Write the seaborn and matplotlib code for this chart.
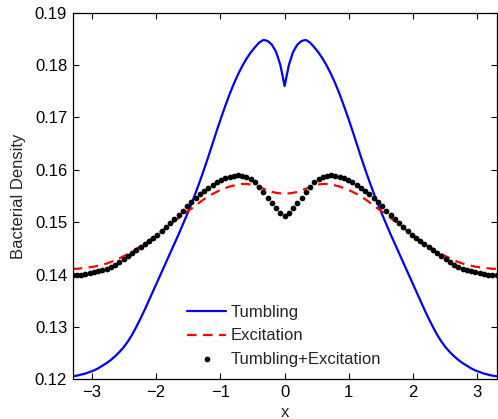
import numpy as np
import matplotlib
matplotlib.use("Agg")
import matplotlib.pyplot as plt
import seaborn as sns

sns.set_style("ticks")
plt.rcParams['font.family'] = ['Liberation Sans', 'DejaVu Sans']

# values, 101 evenly spaced samples on [-3.3, 3.3]
x = np.linspace(-3.3, 3.3, 101)

tumbling = [
    0.1206, 0.1207, 0.1209, 0.1211, 0.1214, 0.1217, 0.1221, 0.1226, 0.1231, 0.1237,
    0.1244, 0.1252, 0.1261, 0.1272, 0.1285, 0.1300, 0.1316, 0.1333, 0.1351, 0.1369,
    0.1387, 0.1405, 0.1423, 0.1441, 0.1459, 0.1477, 0.1496, 0.1515, 0.1535, 0.1556,
    0.1578, 0.1601, 0.1625, 0.1650, 0.1675, 0.1699, 0.1722, 0.1744, 0.1764, 0.1782,
    0.1798, 0.1812, 0.1824, 0.1834, 0.1843, 0.1848, 0.1846, 0.1839, 0.1825, 0.1800,
    0.1760,
    0.1800, 0.1825, 0.1839, 0.1846, 0.1848, 0.1843, 0.1834, 0.1824, 0.1812, 0.1798,
    0.1782, 0.1764, 0.1744, 0.1722, 0.1699, 0.1675, 0.1650, 0.1625, 0.1601, 0.1578,
    0.1556, 0.1535, 0.1515, 0.1496, 0.1477, 0.1459, 0.1441, 0.1423, 0.1405, 0.1387,
    0.1369, 0.1351, 0.1333, 0.1316, 0.1300, 0.1285, 0.1272, 0.1261, 0.1252, 0.1244,
    0.1237, 0.1231, 0.1226, 0.1221, 0.1217, 0.1214, 0.1211, 0.1209, 0.1207, 0.1206,
]

excitation = [
    0.1411, 0.1411, 0.1412, 0.1413, 0.1414, 0.1415, 0.1417, 0.1419, 0.1421, 0.1424,
    0.1427, 0.1431, 0.1435, 0.1439, 0.1444, 0.1449, 0.1454, 0.1459, 0.1465, 0.1471,
    0.1477, 0.1483, 0.1489, 0.1496, 0.1502, 0.1508, 0.1514, 0.1520, 0.1526, 0.1532,
    0.1538, 0.1544, 0.1549, 0.1554, 0.1558, 0.1562, 0.1565, 0.1568, 0.1570, 0.1572,
    0.1573, 0.1573, 0.1572, 0.1570, 0.1567, 0.1564, 0.1561, 0.1558, 0.1556, 0.1555,
    0.1555,
    0.1555, 0.1556, 0.1558, 0.1561, 0.1564, 0.1567, 0.1570, 0.1572, 0.1573, 0.1573,
    0.1572, 0.1570, 0.1568, 0.1565, 0.1562, 0.1558, 0.1554, 0.1549, 0.1544, 0.1538,
    0.1532, 0.1526, 0.1520, 0.1514, 0.1508, 0.1502, 0.1496, 0.1489, 0.1483, 0.1477,
    0.1471, 0.1465, 0.1459, 0.1454, 0.1449, 0.1444, 0.1439, 0.1435, 0.1431, 0.1427,
    0.1424, 0.1421, 0.1419, 0.1417, 0.1415, 0.1414, 0.1413, 0.1412, 0.1411, 0.1411,
]

combined = [
    0.1399, 0.1400, 0.1400, 0.1401, 0.1403, 0.1404, 0.1406, 0.1408, 0.1411, 0.1414,
    0.1419, 0.1424, 0.1430, 0.1436, 0.1442, 0.1447, 0.1453, 0.1458, 0.1464, 0.1470,
    0.1476, 0.1483, 0.1490, 0.1498, 0.1506, 0.1514, 0.1522, 0.1530, 0.1538, 0.1546,
    0.1553, 0.1560, 0.1566, 0.1571, 0.1576, 0.1580, 0.1584, 0.1587, 0.1589, 0.1590,
    0.1589, 0.1587, 0.1583, 0.1576, 0.1567, 0.1557, 0.1547, 0.1537, 0.1527, 0.1518,
    0.1511,
    0.1518, 0.1527, 0.1537, 0.1547, 0.1557, 0.1567, 0.1576, 0.1583, 0.1587, 0.1589,
    0.1590, 0.1589, 0.1587, 0.1584, 0.1580, 0.1576, 0.1571, 0.1566, 0.1560, 0.1553,
    0.1546, 0.1538, 0.1530, 0.1522, 0.1514, 0.1506, 0.1498, 0.1490, 0.1483, 0.1476,
    0.1470, 0.1464, 0.1458, 0.1453, 0.1447, 0.1442, 0.1436, 0.1430, 0.1424, 0.1419,
    0.1414, 0.1411, 0.1408, 0.1406, 0.1404, 0.1403, 0.1401, 0.1400, 0.1400, 0.1399,
]

fig = plt.figure(figsize=(4.98, 4.19), dpi=100)
ax = fig.add_axes([0.146, 0.0947, 0.851, 0.875])

sns.lineplot(x=x, y=tumbling, ax=ax, color='#0000ff', linewidth=1.6, label='Tumbling')
sns.lineplot(x=x, y=excitation, ax=ax, color='#ff0000', linewidth=1.6,
             dashes=False, label='Excitation')
ax.lines[-1].set_dashes((4.3, 2.9))
sns.scatterplot(x=x, y=combined, ax=ax, color='black', s=17, linewidth=0,
                label='Tumbling+Excitation', zorder=3)

ax.set_xlim(-3.3, 3.3)
ax.set_ylim(0.12, 0.19)
ax.set_xticks([-3, -2, -1, 0, 1, 2, 3])
ax.set_xticklabels(['\u22123', '\u22122', '\u22121', '0', '1', '2', '3'])
ax.set_yticks([0.12, 0.13, 0.14, 0.15, 0.16, 0.17, 0.18, 0.19])
ax.set_yticklabels(['0.12', '0.13', '0.14', '0.15', '0.16', '0.17', '0.18', '0.19'])
ax.tick_params(direction='in', length=4, width=0.8, top=True, right=True,
               labelsize=12, pad=4, colors='black')
for sp in ax.spines.values():
    sp.set_visible(True)
    sp.set_linewidth(0.9)
    sp.set_color('black')

ax.set_xlabel('x', fontsize=12, labelpad=4)
ax.set_ylabel('Bacterial Density', fontsize=12, labelpad=6)

ax.legend(loc='lower left', bbox_to_anchor=(0.250, 0.012), frameon=False,
          fontsize=12, handlelength=2.35, handletextpad=0.25, labelspacing=0.49,
          borderpad=0, markerscale=1.0)

fig.savefig('out.png', dpi=100)
